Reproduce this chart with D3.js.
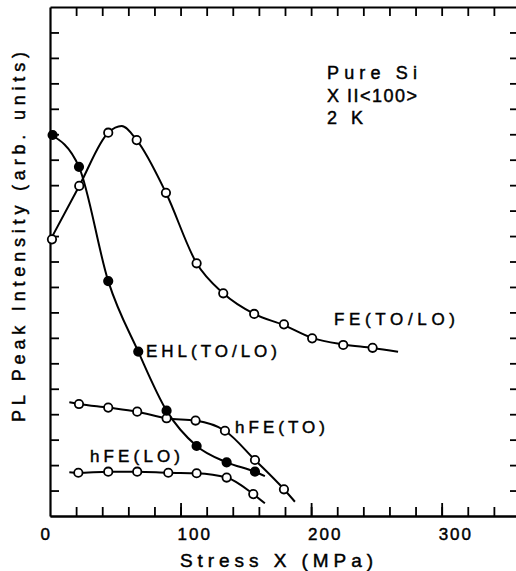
<!DOCTYPE html>
<html>
<head>
<meta charset="utf-8">
<script src="https://cdn.jsdelivr.net/npm/d3@7"></script>
<style>
body { margin: 0; background: #fff; }
text { font-family: "Liberation Sans", Arial, sans-serif; fill: #000; stroke: #000; stroke-width: 0.45px; }
</style>
</head>
<body>
<svg id="graph" width="516" height="571"></svg>
<script>
// measured points, stress in MPa, intensity in arb. units
var feStress   = [1.5, 22.4, 44.6, 66.4, 88.8, 112.3, 132.7, 156.4, 179.2, 200.8, 224.6, 247.1];
var feValue    = [10.87, 12.97, 15.06, 14.77, 12.70, 9.93, 8.75, 7.94, 7.53, 6.98, 6.72, 6.61];
var ehlStress  = [2, 22.2, 44.6, 67.6, 89.3, 112.3, 135.3, 157];
var ehlValue   = [14.97, 13.72, 9.23, 6.46, 4.14, 2.75, 2.11, 1.74];
var hfeToStress = [22.2, 44.6, 66.8, 89.3, 111.5, 134, 157, 179.2];
var hfeToValue  = [4.40, 4.26, 4.10, 3.84, 3.75, 3.35, 2.20, 1.05];
var hfeLoStress = [21.7, 44.6, 66.8, 90.6, 112.3, 135.3, 155.7];
var hfeLoValue  = [1.70, 1.74, 1.74, 1.70, 1.68, 1.51, 0.86];

// hand drawn fit curves (stress, intensity)
var feFit    = [[0, 10.82], [22.4, 12.97], [44.6, 15.06], [54.9, 15.32], [66.4, 14.77], [88.8, 12.70], [112.3, 9.93],
                [132.7, 8.75], [156.4, 7.94], [179.2, 7.50], [200.8, 7.00], [224.6, 6.74], [247.1, 6.60], [266.6, 6.45]];
var ehlFit   = [[0, 15.0], [22.2, 13.72], [44.6, 9.23], [67.6, 6.46], [89.3, 4.14], [112.3, 2.75], [135.3, 2.11], [157, 1.74], [164.6, 1.57]];
var hfeToFit = [[14.8, 4.47], [22.2, 4.40], [44.6, 4.26], [66.8, 4.10], [89.3, 3.84], [111.5, 3.75], [134, 3.35], [157, 2.20], [179.2, 1.05], [187.6, 0.56]];
var hfeLoFit = [[14.8, 1.72], [21.7, 1.70], [44.6, 1.74], [66.8, 1.74], [90.6, 1.70], [112.3, 1.68], [135.3, 1.51], [155.7, 0.86], [164.6, 0.50]];

var xLabels = [0, 100, 200, 300];

var svg = d3.select("#graph");
var x = d3.scaleLinear().domain([0, 360]).range([50, 520]);
var y = d3.scaleLinear().domain([0, 20]).range([516, 7]);

function styleAxis(g) {
    g.select(".domain").attr("stroke", "#000").attr("stroke-width", 2.2);
    g.selectAll(".tick line").attr("stroke", "#000").attr("stroke-width", 1.8);
}

// frame and inward ticks
svg.append("g").attr("transform", "translate(0,516)")
    .call(d3.axisBottom(x).tickValues(d3.range(20, 360, 20)).tickSize(-9).tickSizeOuter(0).tickFormat(""))
    .call(styleAxis);
svg.append("g").attr("transform", "translate(0,516)")
    .call(d3.axisBottom(x).tickValues([100, 200, 300]).tickSize(-13).tickSizeOuter(0).tickFormat(""))
    .call(styleAxis);
svg.append("g").attr("transform", "translate(0,7)")
    .call(d3.axisTop(x).tickValues(d3.range(20, 360, 20)).tickSize(-9).tickSizeOuter(0).tickFormat(""))
    .call(styleAxis);
svg.append("g").attr("transform", "translate(50,0)")
    .call(d3.axisLeft(y).tickValues(d3.range(1, 20)).tickSize(-9).tickSizeOuter(0).tickFormat(""))
    .call(styleAxis);
svg.append("g").attr("transform", "translate(520,0)")
    .call(d3.axisRight(y).tickValues(d3.range(1, 20)).tickSize(-10).tickSizeOuter(0).tickFormat(""))
    .call(styleAxis);

svg.selectAll(".xlab").data(xLabels).enter().append("text")
    .attr("class", "xlab")
    .attr("x", function(d) { return d === 0 ? x(d) : x(d) - 3; })
    .attr("y", 540)
    .attr("text-anchor", function(d) { return d === 0 ? "end" : "start"; })
    .style("font-size", "17px")
    .style("letter-spacing", function(d) { return d === 0 ? "0px" : "2px"; })
    .text(function(d) { return d; });

svg.append("text").attr("x", 180).attr("y", 567)
    .attr("textLength", 193).attr("lengthAdjust", "spacing")
    .style("font-size", "19px").text("Stress X (MPa)");

svg.append("text").attr("transform", "translate(25,422) rotate(-90)")
    .attr("textLength", 370).attr("lengthAdjust", "spacing")
    .style("font-size", "18px").text("PL Peak Intensity (arb. units)");

// curves
var line = d3.line()
    .x(function(d) { return x(d[0]); })
    .y(function(d) { return y(d[1]); })
    .curve(d3.curveMonotoneX);

[feFit, ehlFit, hfeToFit, hfeLoFit].forEach(function(fit) {
    svg.append("path").datum(fit)
        .attr("d", line)
        .attr("fill", "none")
        .attr("stroke", "#000")
        .attr("stroke-width", 2);
});

function drawPoints(xs, ys, filled) {
    svg.append("g").selectAll("circle")
        .data(xs)
        .enter().append("circle")
        .attr("cx", function(d) { return x(d); })
        .attr("cy", function(d, i) { return y(ys[i]); })
        .attr("r", 4.2)
        .attr("fill", filled ? "#000" : "#fff")
        .attr("stroke", "#000")
        .attr("stroke-width", 1.8);
}

drawPoints(feStress, feValue, false);
drawPoints(hfeToStress, hfeToValue, false);
drawPoints(hfeLoStress, hfeLoValue, false);
drawPoints(ehlStress, ehlValue, true);

// labels
function label(txt, px, py, len, size) {
    svg.append("text").attr("x", px).attr("y", py)
        .attr("textLength", len).attr("lengthAdjust", "spacing")
        .style("font-size", size + "px")
        .text(txt);
}

label("FE(TO/LO)", 334, 325, 121, 17);
label("EHL(TO/LO)", 146, 357, 131, 17);
label("hFE(TO)", 235, 433, 90, 17);
label("hFE(LO)", 90, 462, 90, 17);
label("Pure Si", 327, 79, 90, 18);
label("X II<100>", 327, 102, 90, 18);
label("2 K", 327, 124, 36, 18);
</script>
</body>
</html>
